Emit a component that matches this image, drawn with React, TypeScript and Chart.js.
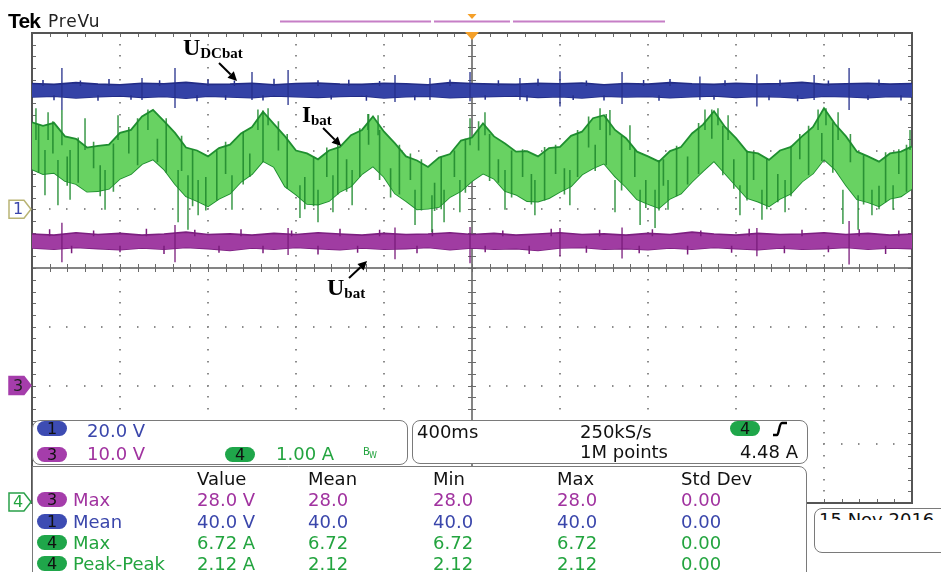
import React, { useEffect, useRef } from 'react';
import { Chart, registerables } from 'chart.js';

Chart.register(...registerables);

// ---------------- data ----------------
// time base (ms), 400 ms/div, 10 divisions
const GRID_X = [-2000, -1600, -1200, -800, -400, 0, 400, 800, 1200, 1600, 2000];
const GRID_Y = [-4, -3, -2, -1, 0, 1, 2, 3, 4];

const TIME_GREEN = [
  -2000, -1950, -1900, -1850, -1800, -1750, -1700, -1650, -1600, -1550,
  -1500, -1450, -1400, -1350, -1300, -1250, -1200, -1150, -1100, -1050,
  -1000, -950, -900, -850, -800, -750, -700, -650, -600, -550,
  -500, -450, -400, -350, -300, -250, -200, -150, -100, -50,
  0, 50, 100, 150, 200, 250, 300, 350, 400, 450,
  500, 550, 600, 650, 700, 750, 800, 850, 900, 950,
  1000, 1050, 1100, 1150, 1200, 1250, 1300, 1350, 1400, 1450,
  1500, 1550, 1600, 1650, 1700, 1750, 1800, 1850, 1900, 1950,
  2000,
];

// Ch4 Ibat envelope (A)
const GREEN_TOP = [
  6.48, 6.42, 6.47, 6.24, 6.2, 6.05, 6.08, 6.1, 6.3, 6.35,
  6.58, 6.69, 6.5, 6.3, 6.05, 6.0, 5.9, 6.04, 6.1, 6.29,
  6.4, 6.66, 6.45, 6.24, 6.0, 5.95, 5.85, 6.0, 6.06, 6.26,
  6.35, 6.58, 6.32, 6.12, 5.9, 5.83, 5.72, 5.88, 5.94, 6.17,
  6.22, 6.46, 6.24, 6.12, 5.98, 5.99, 5.9, 6.04, 6.06, 6.25,
  6.32, 6.55, 6.6, 6.35, 6.21, 5.98, 5.9, 5.81, 5.99, 6.06,
  6.29, 6.44, 6.67, 6.4, 6.21, 5.98, 5.95, 5.84, 6.0, 6.06,
  6.24, 6.4, 6.72, 6.45, 6.24, 5.98, 5.9, 5.81, 5.95, 5.98,
  6.07,
];
const GREEN_BOT = [
  5.68, 5.6, 5.62, 5.48, 5.43, 5.3, 5.31, 5.35, 5.52, 5.6,
  5.77, 5.85, 5.68, 5.43, 5.22, 5.14, 5.05, 5.18, 5.27, 5.47,
  5.6, 5.82, 5.72, 5.39, 5.25, 5.09, 5.08, 5.14, 5.3, 5.39,
  5.6, 5.73, 5.55, 5.27, 5.14, 5.0, 5.01, 5.04, 5.21, 5.31,
  5.48, 5.61, 5.52, 5.31, 5.25, 5.14, 5.13, 5.19, 5.3, 5.39,
  5.59, 5.7, 5.78, 5.56, 5.38, 5.17, 5.09, 5.02, 5.18, 5.27,
  5.47, 5.65, 5.82, 5.61, 5.4, 5.19, 5.13, 5.05, 5.18, 5.27,
  5.47, 5.61, 5.85, 5.68, 5.41, 5.17, 5.12, 5.05, 5.18, 5.22,
  5.35,
];
// spikes leaving the band
const GREEN_SPIKE_T = [
  -1941, -1882, -1827, -1668, -1336, -1291, -1245, -1091, -782, -700,
  -632, -545, -259, -182, -127, -55, 150, 286, 445, 650,
  764, 832, 891, 1218, 1318, 1423, 1686, 1755, 1818, 1914,
  -1982, -1927, -1864, -1759, -1609, -1473, -973, -927, -473, -427,
  -9, 59, 582, 627, 718, 1059, 1118, 1164, 1573, 1609,
  1664, 1991,
];
const GREEN_SPIKE_HI = [
  6.01, 5.84, 6.01, 5.67, 5.67, 5.58, 5.5, 5.58, 5.41, 5.33,
  5.58, 5.67, 5.33, 5.24, 5.33, 5.5, 5.67, 5.5, 5.67, 5.5,
  5.33, 5.33, 5.5, 5.41, 5.33, 5.5, 5.33, 5.24, 5.33, 5.41,
  6.72, 6.65, 6.69, 6.55, 6.6, 6.7, 6.7, 6.72, 6.62, 6.6,
  6.55, 6.65, 6.72, 6.69, 6.43, 6.7, 6.72, 6.6, 6.7, 6.72,
  6.65, 6.35,
];
const GREEN_SPIKE_LO = [
  5.24, 5.07, 5.16, 4.99, 4.78, 4.65, 4.9, 4.99, 4.85, 4.78,
  4.95, 5.07, 4.73, 4.61, 4.78, 4.95, 4.99, 4.9, 5.07, 4.95,
  4.73, 4.68, 4.99, 4.9, 4.82, 4.95, 4.75, 4.65, 4.9, 4.99,
  6.18, 6.18, 6.09, 6.01, 6.18, 6.35, 6.35, 6.43, 6.35, 6.26,
  6.09, 6.26, 6.35, 6.26, 6.01, 6.35, 6.43, 6.18, 6.35, 6.43,
  6.18, 6.01,
];
// dark streaks inside the band
const GREEN_STREAK_T = [
  -1970, -1905, -1840, -1790, -1720, -1690, -1630, -1560, -1520, -1430,
  -1390, -1320, -1270, -1210, -1160, -1120, -1040, -1010, -950, -880,
  -840, -760, -720, -660, -610, -570, -510, -470, -420, -370,
  -330, -280, -230, -170, -140, -80, -30, 30, 80, 120,
  180, 230, 270, 330, 380, 420, 480, 530, 560, 610,
  680, 740, 790, 850, 870, 930, 980, 1030, 1090, 1140,
  1190, 1250, 1280, 1340, 1390, 1450, 1490, 1530, 1590, 1640,
  1720, 1780, 1850, 1880, 1940, 1975,
];
const GREEN_STREAK_HI = [
  6.45, 6.5, 5.9, 6.22, 6.15, 5.75, 6.12, 6.4, 6.55, 6.2,
  6.55, 6.25, 6.02, 5.55, 6.0, 6.15, 6.32, 5.95, 6.68, 6.5,
  6.28, 5.55, 5.9, 6.05, 6.1, 5.85, 6.38, 6.62, 6.35, 5.7,
  6.1, 5.95, 5.85, 5.45, 5.9, 6.0, 6.2, 6.5, 6.28, 5.85,
  6.0, 6.02, 5.6, 6.06, 6.1, 5.7, 6.35, 6.58, 6.1, 6.62,
  6.25, 6.02, 5.5, 5.84, 5.85, 6.08, 5.9, 6.47, 6.7, 6.42,
  5.85, 6.0, 5.98, 5.86, 5.6, 6.08, 6.28, 6.42, 6.3, 6.48,
  6.28, 5.92, 5.4, 5.97, 6.02, 6.1,
];
const GREEN_STREAK_LO = [
  5.62, 5.95, 5.4, 5.45, 5.7, 5.22, 5.3, 5.95, 5.75, 5.8,
  5.62, 5.65, 5.05, 4.98, 5.15, 5.6, 5.42, 5.55, 5.8, 6.0,
  5.35, 5.0, 5.05, 5.55, 5.25, 5.3, 5.55, 6.1, 5.5, 5.2,
  5.25, 5.5, 4.98, 4.97, 5.0, 5.55, 5.28, 6.0, 5.48, 5.45,
  5.2, 5.55, 5.08, 5.15, 5.6, 5.25, 5.55, 6.05, 5.65, 5.75,
  5.32, 5.55, 5.02, 4.98, 5.4, 5.22, 5.42, 5.6, 6.2, 5.58,
  5.35, 5.15, 5.5, 5.0, 5.12, 5.22, 5.85, 5.58, 5.82, 5.62,
  5.8, 5.08, 5.0, 5.12, 5.6, 5.3,
];

const TIME_BAND = [
  -2000, -1900, -1800, -1700, -1600, -1500, -1400, -1300, -1200, -1100,
  -1000, -900, -800, -700, -600, -500, -400, -300, -200, -100,
  0, 100, 200, 300, 400, 500, 600, 700, 800, 900,
  1000, 1100, 1200, 1300, 1400, 1500, 1600, 1700, 1800, 1900,
  2000,
];

// Ch1 UDCbat envelope (V)
const BLUE_TOP = [
  42.8, 42.5, 43.1, 42.6, 42.4, 42.9, 42.7, 43.2, 42.5, 42.6,
  42.9, 42.4, 42.8, 43.0, 42.6, 42.5, 42.9, 42.7, 42.4, 43.1,
  42.8, 42.6, 42.5, 42.9, 42.7, 43.0, 42.4, 42.8, 42.6, 43.1,
  42.7, 42.5, 42.9, 42.6, 42.8, 43.2, 42.5, 42.7, 42.9, 42.6,
  42.8,
];
const BLUE_BOT = [
  38.2, 38.5, 37.9, 38.3, 38.6, 38.1, 38.4, 37.8, 38.5, 38.2,
  38.0, 38.6, 38.3, 38.1, 38.4, 38.6, 37.9, 38.3, 38.5, 38.0,
  38.2, 38.4, 38.6, 38.1, 38.3, 37.9, 38.5, 38.2, 38.4, 38.0,
  38.3, 38.6, 38.1, 38.4, 38.2, 37.8, 38.5, 38.3, 38.0, 38.4,
  38.2,
];
const BLUE_SPIKE_T = [-1864, -1500, -1350, -1000, -836, -350, -191, -9, 218, 400, 682, 1036, 1295, 1555, 1714];
const BLUE_SPIKE_HI = [48.1, 44.7, 48.1, 46.7, 47.4, 45.7, 44.7, 46.7, 44.7, 47.0, 46.7, 45.2, 46.0, 45.7, 48.1];
const BLUE_SPIKE_LO = [33.8, 37.2, 34.5, 37.2, 35.5, 36.5, 37.2, 36.8, 37.2, 35.0, 35.8, 37.2, 35.0, 37.2, 33.8];
const BLUE_TUFT_T = [
  -1950, -1780, -1650, -1420, -1200, -1080, -900, -700, -560, -420,
  -100, 120, 300, 520, 780, 900, 1150, 1400, 1620, 1850,
  -1900, -1700, -1550, -1250, -1120, -950, -640, -480, -260, 60,
  250, 460, 600, 850, 1100, 1350, 1480, 1800, 1950,
];
const BLUE_TUFT_HI = [
  44.0, 43.8, 44.3, 43.9, 44.2, 43.8, 44.4, 43.9, 44.1, 43.7,
  44.2, 43.9, 44.4, 43.8, 44.0, 44.3, 43.9, 44.1, 43.8, 44.2,
  38.8, 38.8, 38.8, 38.8, 38.8, 38.8, 38.8, 38.8, 38.8, 38.8,
  38.8, 38.8, 38.8, 38.8, 38.8, 38.8, 38.8, 38.8, 38.8,
];
const BLUE_TUFT_LO = [
  42.0, 42.0, 42.0, 42.0, 42.0, 42.0, 42.0, 42.0, 42.0, 42.0,
  42.0, 42.0, 42.0, 42.0, 42.0, 42.0, 42.0, 42.0, 42.0, 42.0,
  37.1, 36.9, 37.3, 36.8, 37.2, 37.0, 37.4, 36.9, 37.1, 37.3,
  36.8, 37.2, 37.0, 36.9, 37.3, 37.1, 36.8, 37.2, 37.0,
];

// Ch3 Ubat envelope (V)
const PURPLE_TOP = [
  25.8, 25.6, 26.0, 25.7, 25.9, 25.6, 25.8, 26.1, 25.7, 25.8,
  25.6, 25.9, 25.7, 26.0, 25.8, 25.6, 25.9, 25.7, 25.8, 26.0,
  25.7, 25.9, 25.6, 25.8, 26.0, 25.7, 25.8, 25.6, 25.9, 25.7,
  26.1, 25.8, 25.6, 25.9, 25.7, 25.8, 26.0, 25.7, 25.9, 25.6,
  25.8,
];
const PURPLE_BOT = [
  23.4, 23.2, 23.5, 23.3, 23.1, 23.4, 23.2, 23.5, 23.3, 23.0,
  23.4, 23.2, 23.5, 23.3, 23.1, 23.4, 23.2, 23.3, 23.5, 23.1,
  23.4, 23.2, 23.3, 23.0, 23.4, 23.5, 23.2, 23.3, 23.1, 23.4,
  23.2, 23.5, 23.3, 23.1, 23.4, 23.2, 23.3, 23.5, 23.2, 23.4,
  23.3,
];
const PURPLE_SPIKE_T = [-1864, -1350, -836, -350, -9, 400, 682, 1295, 1714];
const PURPLE_SPIKE_HI = [27.7, 27.3, 26.8, 26.9, 27.0, 26.8, 26.9, 26.8, 28.0];
const PURPLE_SPIKE_LO = [21.0, 21.0, 22.2, 21.5, 20.8, 22.0, 21.6, 22.0, 20.6];
const PURPLE_TUFT_T = [
  -1920, -1720, -1480, -1260, -1050, -820, -600, -420, -180, 140,
  360, 580, 820, 1040, 1260, 1500, 1760, 1940,
  -1820, -1600, -1400, -1150, -950, -700, -520, -250, 60, 260,
  520, 760, 980, 1180, 1420, 1620, 1880,
];
const PURPLE_TUFT_HI = [
  26.6, 26.4, 26.7, 26.5, 26.6, 26.4, 26.7, 26.5, 26.6, 26.4,
  26.7, 26.5, 26.6, 26.4, 26.7, 26.5, 26.6, 26.4,
  23.8, 23.8, 23.8, 23.8, 23.8, 23.8, 23.8, 23.8, 23.8, 23.8,
  23.8, 23.8, 23.8, 23.8, 23.8, 23.8, 23.8,
];
const PURPLE_TUFT_LO = [
  25.4, 25.4, 25.4, 25.4, 25.4, 25.4, 25.4, 25.4, 25.4, 25.4,
  25.4, 25.4, 25.4, 25.4, 25.4, 25.4, 25.4, 25.4,
  22.5, 22.7, 22.4, 22.6, 22.5, 22.3, 22.6, 22.5, 22.7, 22.4,
  22.6, 22.5, 22.3, 22.6, 22.5, 22.7, 22.4,
];

// readouts
const SCALE_CH = ['1', '3', '4'];
const SCALE_TEXT = ['20.0 V', '10.0 V', '1.00 A'];
const TIMEBASE = '400ms';
const SAMPLE_RATE = '250kS/s';
const RECORD_LEN = '1M points';
const TRIG_CH = '4';
const TRIG_LEVEL = '4.48 A';
const MEAS_HEAD = ['Value', 'Mean', 'Min', 'Max', 'Std Dev'];
const MEAS_CH = ['3', '1', '4', '4'];
const MEAS_NAME = ['Max', 'Mean', 'Max', 'Peak-Peak'];
const MEAS_VALUE = ['28.0 V', '40.0 V', '6.72 A', '2.12 A'];
const MEAS_MEAN = ['28.0', '40.0', '6.72', '2.12'];
const MEAS_MIN = ['28.0', '40.0', '6.72', '2.12'];
const MEAS_MAX = ['28.0', '40.0', '6.72', '2.12'];
const MEAS_STD = ['0.00', '0.00', '0.00', '0.00'];
const DATE_TEXT = '15 Nov 2016';

// annotations in data coordinates
const ANNOTS = [
  { main: 'U', sub: 'DCbat', axis: 'y1', t: -1314, v: 52.5, from: [-1150, 49.8], to: [-1068, 43.7], size: 24 },
  { main: 'I', sub: 'bat', axis: 'y4', t: -773, v: 6.485, from: [-677, 6.383], to: [-595, 6.077], size: 23 },
  { main: 'U', sub: 'bat', axis: 'y3', t: -659, v: 15.4, from: [-559, 18.3], to: [-477, 21.19], size: 24 },
];

// ---------------- styles ----------------
const FONT = '"DejaVu Sans", Verdana, sans-serif';
const CH_TEXT: Record<string, string> = { '1': '#3a46ab', '3': '#a0329f', '4': '#23a43f' };
const CH_PILL: Record<string, string> = { '1': '#3d4cb3', '3': '#a53dab', '4': '#1fa64a' };

const graticule = {
  id: 'graticule',
  beforeDatasetsDraw(chart: any) {
    const { ctx, chartArea: a } = chart;
    const xs = chart.scales.x;
    const ys = chart.scales.div;
    const px = (t: number) => xs.getPixelForValue(t);
    const py = (d: number) => ys.getPixelForValue(d);
    const xMinor: number[] = [];
    for (let k = 0; k <= 50; k++) xMinor.push(-2000 + k * 80);
    const yMinor: number[] = [];
    for (let k = 0; k <= 40; k++) yMinor.push(-4 + k * 0.2);
    ctx.save();
    ctx.fillStyle = '#8c8c8c';
    for (const t of GRID_X) {
      if (t === 0 || t === GRID_X[0] || t === GRID_X[GRID_X.length - 1]) continue;
      const x = Math.round(px(t));
      for (const d of yMinor) ctx.fillRect(x - 1, Math.round(py(d)) - 1, 2, 1.5);
    }
    for (const d of GRID_Y) {
      if (d === 0 || d === GRID_Y[0] || d === GRID_Y[GRID_Y.length - 1]) continue;
      const y = Math.round(py(d));
      for (const t of xMinor) ctx.fillRect(Math.round(px(t)) - 1, y - 1, 1.5, 2);
    }
    const x0 = Math.round(px(0));
    const y0 = Math.round(py(0));
    ctx.strokeStyle = '#5c5c5c';
    ctx.lineWidth = 1.5;
    ctx.beginPath();
    ctx.moveTo(x0, a.top); ctx.lineTo(x0, a.bottom);
    ctx.moveTo(a.left, y0); ctx.lineTo(a.right, y0);
    ctx.stroke();
    ctx.lineWidth = 1;
    ctx.strokeStyle = '#6a6a6a';
    ctx.beginPath();
    for (const d of yMinor) {
      const y = Math.round(py(d)) + 0.5;
      ctx.moveTo(x0 - 4, y); ctx.lineTo(x0 + 4, y);
      ctx.moveTo(a.left, y); ctx.lineTo(a.left + 4, y);
      ctx.moveTo(a.right - 4, y); ctx.lineTo(a.right, y);
    }
    for (const t of xMinor) {
      const x = Math.round(px(t)) + 0.5;
      ctx.moveTo(x, y0 - 4); ctx.lineTo(x, y0 + 4);
      ctx.moveTo(x, a.top); ctx.lineTo(x, a.top + 4);
      ctx.moveTo(x, a.bottom - 4); ctx.lineTo(x, a.bottom);
    }
    ctx.stroke();
    ctx.strokeStyle = '#555';
    ctx.lineWidth = 2;
    ctx.strokeRect(a.left, a.top, a.right - a.left, a.bottom - a.top);
    ctx.restore();
  },
};

function drawArrow(ctx: CanvasRenderingContext2D, x1: number, y1: number, x2: number, y2: number) {
  const ang = Math.atan2(y2 - y1, x2 - x1);
  const L = 9;
  const bx = x2 - L * Math.cos(ang);
  const by = y2 - L * Math.sin(ang);
  ctx.strokeStyle = '#000';
  ctx.fillStyle = '#000';
  ctx.lineWidth = 2;
  ctx.beginPath(); ctx.moveTo(x1, y1); ctx.lineTo(bx, by); ctx.stroke();
  ctx.beginPath();
  ctx.moveTo(x2, y2);
  ctx.lineTo(bx + 4.5 * Math.sin(ang), by - 4.5 * Math.cos(ang));
  ctx.lineTo(bx - 4.5 * Math.sin(ang), by + 4.5 * Math.cos(ang));
  ctx.closePath(); ctx.fill();
}

function marker(ctx: CanvasRenderingContext2D, y: number, label: string, fill: string | null, stroke: string, text: string) {
  ctx.beginPath();
  ctx.moveTo(9, y - 9); ctx.lineTo(24, y - 9); ctx.lineTo(31, y); ctx.lineTo(24, y + 9); ctx.lineTo(9, y + 9); ctx.closePath();
  ctx.fillStyle = fill ?? '#fff';
  ctx.fill();
  ctx.strokeStyle = stroke; ctx.lineWidth = 1.5; ctx.stroke();
  ctx.fillStyle = text;
  ctx.font = `16px ${FONT}`;
  ctx.textAlign = 'center';
  ctx.textBaseline = 'middle';
  ctx.fillText(label, 18, y + 1);
}

const overlay = {
  id: 'overlay',
  afterDraw(chart: any) {
    const { ctx, chartArea: a } = chart;
    const xs = chart.scales.x;
    ctx.save();
    const xt = xs.getPixelForValue(0);
    // record view bar
    ctx.strokeStyle = '#c67ec6';
    ctx.lineWidth = 2;
    ctx.beginPath();
    ctx.moveTo(280, 21.5); ctx.lineTo(431, 21.5);
    ctx.moveTo(434, 21.5); ctx.lineTo(510, 21.5);
    ctx.moveTo(513, 21.5); ctx.lineTo(665, 21.5);
    ctx.stroke();
    ctx.fillStyle = '#f5a028';
    ctx.beginPath(); ctx.moveTo(xt - 4.5, 14); ctx.lineTo(xt + 4.5, 14); ctx.lineTo(xt, 19); ctx.closePath(); ctx.fill();
    ctx.beginPath(); ctx.moveTo(xt - 7, a.top - 1); ctx.lineTo(xt + 7, a.top - 1); ctx.lineTo(xt, a.top + 7); ctx.closePath(); ctx.fill();
    // channel ground markers
    marker(ctx, chart.scales.y1.getPixelForValue(0), '1', null, '#b9b474', '#3a46ab');
    marker(ctx, chart.scales.y3.getPixelForValue(0), '3', '#a53dab', '#a53dab', '#222');
    marker(ctx, chart.scales.y4.getPixelForValue(0) - 1, '4', null, '#2aa04a', '#23a43f');
    // annotations
    ctx.textAlign = 'left';
    ctx.textBaseline = 'alphabetic';
    for (const an of ANNOTS) {
      const sc = chart.scales[an.axis];
      const x = xs.getPixelForValue(an.t);
      const y = sc.getPixelForValue(an.v);
      ctx.fillStyle = '#000';
      ctx.font = `bold ${an.size}px "Liberation Serif", "Times New Roman", serif`;
      ctx.fillText(an.main, x, y);
      const w = ctx.measureText(an.main).width;
      ctx.font = 'bold 15px "Liberation Serif", "Times New Roman", serif';
      ctx.fillText(an.sub, x + w, y + 3);
      drawArrow(ctx, xs.getPixelForValue(an.from[0]), sc.getPixelForValue(an.from[1]), xs.getPixelForValue(an.to[0]), sc.getPixelForValue(an.to[1]));
    }
    ctx.restore();
  },
};

function Txt(props: { x: number; b: number; size?: number; color?: string; right?: boolean; ls?: number; weight?: number; family?: string; children: React.ReactNode }) {
  const size = props.size ?? 18;
  const style: React.CSSProperties = {
    position: 'absolute',
    top: props.b - 0.846 * size,
    fontSize: size,
    lineHeight: `${size}px`,
    fontFamily: props.family ?? FONT,
    fontWeight: props.weight ?? 400,
    color: props.color ?? '#111',
    whiteSpace: 'nowrap',
    letterSpacing: props.ls ?? 0,
  };
  if (props.right) style.right = 941 - props.x; else style.left = props.x;
  return <div style={style}>{props.children}</div>;
}

function Pill({ ch, x, y }: { ch: string; x: number; y: number }) {
  return (
    <div style={{ position: 'absolute', left: x, top: y, width: 30, height: 15, borderRadius: 8, background: CH_PILL[ch], color: '#111', fontFamily: FONT, fontSize: 16, lineHeight: '15px', textAlign: 'center' }}>{ch}</div>
  );
}

const boxStyle = (l: number, t: number, w: number, h: number, extra: React.CSSProperties = {}): React.CSSProperties => ({
  position: 'absolute', left: l, top: t, width: w, height: h, boxSizing: 'border-box',
  border: '1.5px solid #7a7a7a', borderRadius: 8, background: '#fff', ...extra,
});

export default function App() {
  const ref = useRef<HTMLCanvasElement>(null);
  useEffect(() => {
    const canvas = ref.current;
    if (!canvas) return;
    const pair = (t: number[], v: number[]) => t.map((x, i) => ({ x, y: v[i] }));
    const segs = (t: number[], hi: number[], lo: number[]) =>
      t.flatMap((x, i) => [{ x, y: hi[i] }, { x, y: lo[i] }, { x, y: null as any }]);
    const common = { pointRadius: 0, tension: 0, spanGaps: false };
    const datasets: any[] = [
      { label: 'Ibat spikes', data: segs(GREEN_SPIKE_T, GREEN_SPIKE_HI, GREEN_SPIKE_LO), yAxisID: 'y4', borderColor: '#1d8a2e', borderWidth: 1.3, fill: false, ...common },
      { label: 'Ibat streaks', data: segs(GREEN_STREAK_T, GREEN_STREAK_HI, GREEN_STREAK_LO), yAxisID: 'y4', borderColor: 'rgba(30,135,45,0.85)', borderWidth: 1.6, fill: false, ...common },
      { label: 'Ibat top', data: pair(TIME_GREEN, GREEN_TOP), yAxisID: 'y4', borderColor: '#1f8f30', borderWidth: 1.8, backgroundColor: '#68d262', fill: '+1', ...common },
      { label: 'Ibat bottom', data: pair(TIME_GREEN, GREEN_BOT), yAxisID: 'y4', borderColor: '#1f8f30', borderWidth: 1.8, fill: false, ...common },
      { label: 'UDCbat spikes', data: segs(BLUE_SPIKE_T, BLUE_SPIKE_HI, BLUE_SPIKE_LO), yAxisID: 'y1', borderColor: '#26308c', borderWidth: 1.3, fill: false, ...common },
      { label: 'UDCbat tufts', data: segs(BLUE_TUFT_T, BLUE_TUFT_HI, BLUE_TUFT_LO), yAxisID: 'y1', borderColor: '#26308c', borderWidth: 1.5, fill: false, ...common },
      { label: 'UDCbat top', data: pair(TIME_BAND, BLUE_TOP), yAxisID: 'y1', borderColor: '#222c86', borderWidth: 1.6, backgroundColor: '#3442a6', fill: '+1', ...common },
      { label: 'UDCbat bottom', data: pair(TIME_BAND, BLUE_BOT), yAxisID: 'y1', borderColor: '#222c86', borderWidth: 1.6, fill: false, ...common },
      { label: 'Ubat spikes', data: segs(PURPLE_SPIKE_T, PURPLE_SPIKE_HI, PURPLE_SPIKE_LO), yAxisID: 'y3', borderColor: '#7a1c7c', borderWidth: 1.3, fill: false, ...common },
      { label: 'Ubat tufts', data: segs(PURPLE_TUFT_T, PURPLE_TUFT_HI, PURPLE_TUFT_LO), yAxisID: 'y3', borderColor: '#7a1c7c', borderWidth: 1.5, fill: false, ...common },
      { label: 'Ubat top', data: pair(TIME_BAND, PURPLE_TOP), yAxisID: 'y3', borderColor: '#7c1f80', borderWidth: 1.6, backgroundColor: '#a03ca2', fill: '+1', ...common },
      { label: 'Ubat bottom', data: pair(TIME_BAND, PURPLE_BOT), yAxisID: 'y3', borderColor: '#7c1f80', borderWidth: 1.6, fill: false, ...common },
    ];
    const chart = new Chart(canvas, {
      type: 'line',
      data: { datasets },
      options: {
        responsive: false,
        animation: false,
        events: [],
        layout: { padding: { left: 32, top: 33, right: 29, bottom: 69 } },
        plugins: { legend: { display: false }, tooltip: { enabled: false }, title: { display: false } },
        scales: {
          x: { type: 'linear', min: -2000, max: 2000, display: false },
          div: { type: 'linear', axis: 'y', position: 'left', min: -4, max: 4, display: false },
          y1: { type: 'linear', min: -100, max: 60, display: false },
          y3: { type: 'linear', min: -20, max: 60, display: false },
          y4: { type: 'linear', min: 0, max: 8, display: false },
        } as any,
      },
      plugins: [graticule, overlay],
    });
    return () => chart.destroy();
  }, []);

  const colX = [197, 308, 433, 557, 681];
  const rowB = [506, 528, 549, 570];
  const cols = [MEAS_VALUE, MEAS_MEAN, MEAS_MIN, MEAS_MAX, MEAS_STD];

  return (
    <div style={{ position: 'fixed', left: 0, top: 0, width: 941, height: 572, overflow: 'hidden', background: '#fff' }}>
      <canvas ref={ref} width={941} height={572} style={{ position: 'absolute', left: 0, top: 0, width: 941, height: 572 }} />
      <Txt x={8} b={28} size={21} weight={700} family='"Liberation Sans", Arial, sans-serif' color="#000" ls={-0.8}>Tek</Txt>
      <Txt x={48} b={27} size={17} color="#222" ls={0.8}>PreVu</Txt>

      <div style={boxStyle(32, 420, 376, 45)} />
      <Pill ch={SCALE_CH[0]} x={37} y={421} />
      <Txt x={87} b={437} color={CH_TEXT[SCALE_CH[0]]}>{SCALE_TEXT[0]}</Txt>
      <Pill ch={SCALE_CH[1]} x={37} y={447} />
      <Txt x={87} b={460} color={CH_TEXT[SCALE_CH[1]]}>{SCALE_TEXT[1]}</Txt>
      <Pill ch={SCALE_CH[2]} x={225} y={447} />
      <Txt x={276} b={460} color={CH_TEXT[SCALE_CH[2]]}>{SCALE_TEXT[2]}</Txt>
      <Txt x={363} b={455} size={10} color={CH_TEXT['4']}>B</Txt>
      <Txt x={369} b={459} size={8} color={CH_TEXT['4']}>W</Txt>

      <div style={boxStyle(412, 420, 396, 44)} />
      <Txt x={417} b={438}>{TIMEBASE}</Txt>
      <Txt x={580} b={438}>{SAMPLE_RATE}</Txt>
      <Pill ch={TRIG_CH} x={730} y={421} />
      <svg width={20} height={20} style={{ position: 'absolute', left: 770, top: 419 }}>
        <path d="M3,16 L7,16 C9,16 9,4 12,4 L17,4" stroke="#000" strokeWidth={2.4} fill="none" />
      </svg>
      <Txt x={580} b={458}>{RECORD_LEN}</Txt>
      <Txt x={798} b={458} right>{TRIG_LEVEL}</Txt>

      <div style={boxStyle(32, 466, 775, 130, { borderRadius: '0 8px 0 0' })} />
      {MEAS_HEAD.map((h, i) => (
        <Txt key={h} x={colX[i]} b={485}>{h}</Txt>
      ))}
      {MEAS_CH.map((ch, r) => (
        <React.Fragment key={r}>
          <Pill ch={ch} x={37} y={rowB[r] - 14} />
          <Txt x={73} b={rowB[r]} color={CH_TEXT[ch]}>{MEAS_NAME[r]}</Txt>
          {cols.map((c, i) => (
            <Txt key={i} x={colX[i]} b={rowB[r]} color={CH_TEXT[ch]}>{c[r]}</Txt>
          ))}
        </React.Fragment>
      ))}

      <div style={boxStyle(814, 508, 140, 45, { borderRadius: '8px 0 0 8px' })} />
      <div style={{ position: 'absolute', left: 819, top: 512, width: 122, height: 8, overflow: 'hidden' }}>
        <div style={{ position: 'absolute', left: 0, top: -1, fontFamily: FONT, fontSize: 18, lineHeight: '18px', color: '#111', whiteSpace: 'nowrap' }}>{DATE_TEXT}</div>
      </div>
    </div>
  );
}
